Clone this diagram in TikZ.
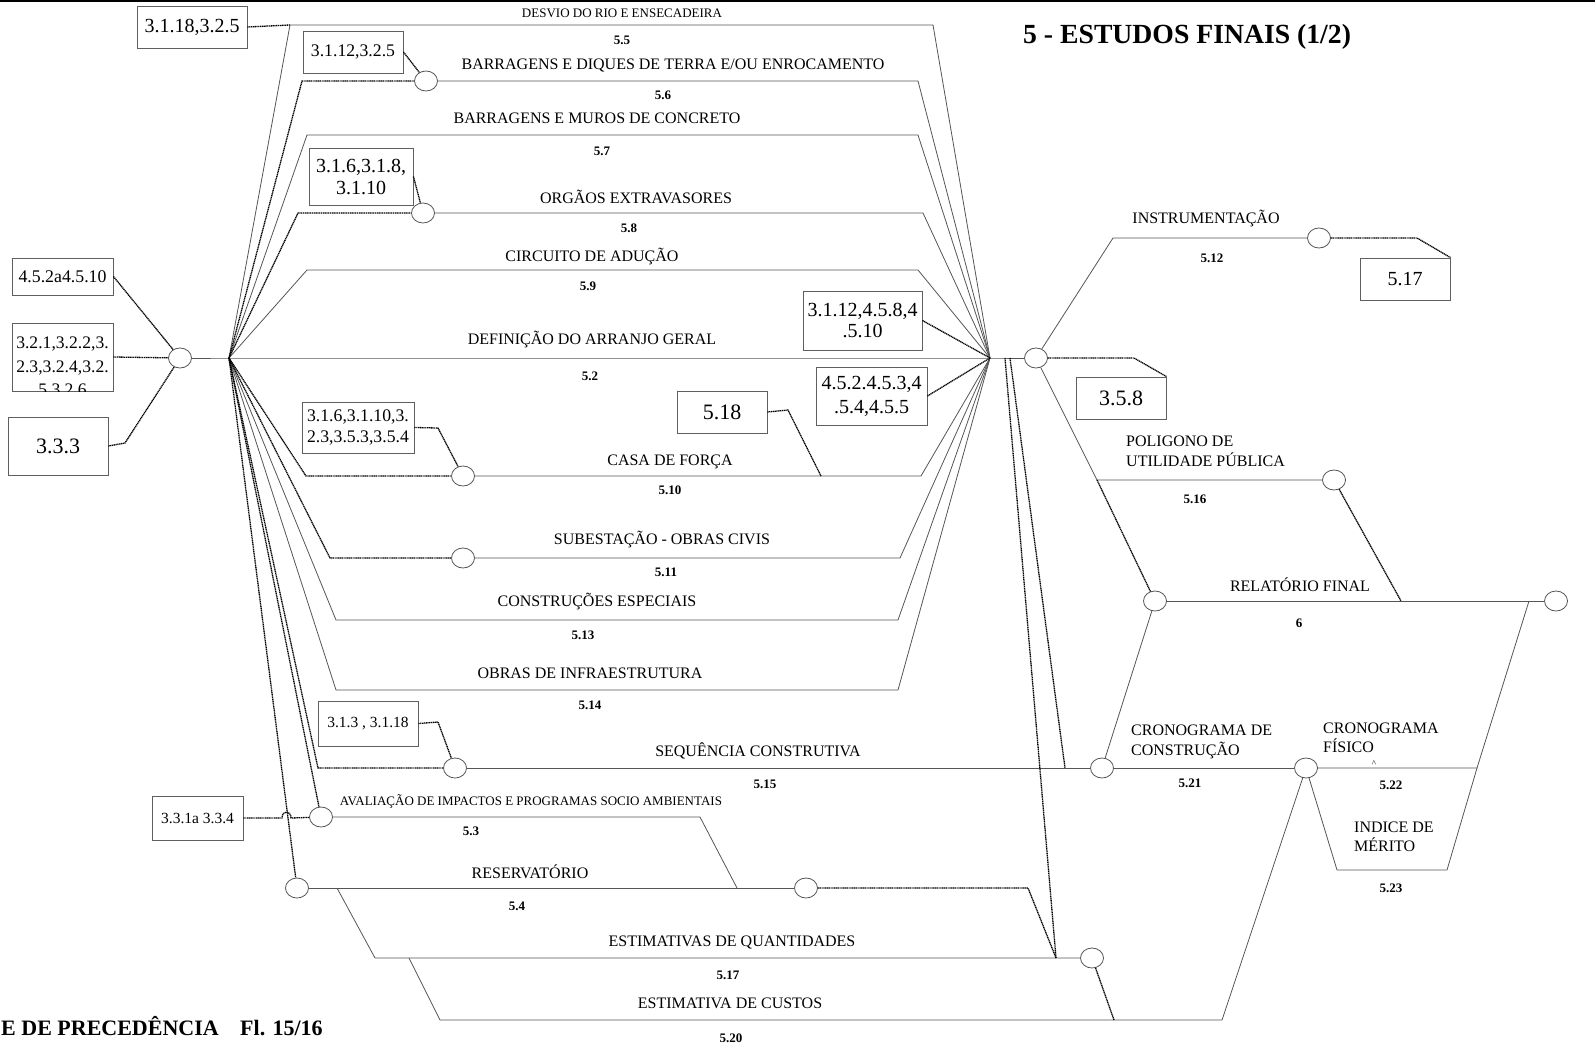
\documentclass[tikz,border=0pt]{standalone}
\usepackage{fontspec}
\setmainfont{Liberation Serif}
\usetikzlibrary{shapes.geometric}
\definecolor{linegray}{RGB}{85,85,85}
\definecolor{boxgray}{RGB}{95,95,95}
\begin{document}
\begin{tikzpicture}[x=1pt,y=-1pt,
  act/.style={draw=linegray,line width=0.8pt},
  dum/.style={draw=black,line width=1.3pt,dash pattern=on 1.2pt off 0.6pt},
  ev/.style={ellipse,draw=linegray,fill=white,line width=0.8pt,minimum width=23pt,minimum height=20pt,inner sep=0pt},
  refbox/.style={draw=boxgray,line width=0.9pt,inner sep=0pt,align=center},
  lbl/.style={inner sep=0pt,anchor=base,font=\fontsize{16}{19}\selectfont},
  lbll/.style={inner sep=0pt,anchor=base west,font=\fontsize{16}{19}\selectfont},
  slbl/.style={inner sep=0pt,anchor=base,font=\fontsize{13}{15}\selectfont},
  num/.style={inner sep=0pt,anchor=base,font=\bfseries\fontsize{13}{15}\selectfont},
  heading/.style={inner sep=0pt,anchor=base west,font=\bfseries\fontsize{22}{24}\selectfont},
]
\useasboundingbox (0,0) rectangle (1595,1046);
\clip (0,0) rectangle (1595,1046);

% frame edge
\draw[line width=2.5pt] (0,1.2) -- (1595,1.2);

% ---------- events ----------
\node[ev] (e0)    at (180,358) {};
\node[ev] (e56)   at (426,81)  {};
\node[ev] (e58)   at (423,213) {};
\node[ev] (e510)  at (463,476) {};
\node[ev] (e511)  at (463,558) {};
\node[ev] (e515)  at (455,768) {};
\node[ev] (e53)   at (321,817) {};
\node[ev] (e54a)  at (297,888) {};
\node[ev] (e54b)  at (806,888) {};
\node[ev] (e517)  at (1092,958) {};
\node[ev] (eR1)   at (1036,358) {};
\node[ev] (e512)  at (1319,238) {};
\node[ev] (e516)  at (1334,480) {};
\node[ev] (eRF)   at (1155,601) {};
\node[ev] (eRFz)  at (1556,601) {};
\node[ev] (e521)  at (1102,768) {};
\node[ev] (e522)  at (1306,768) {};

% ---------- reference boxes ----------
\node[refbox,minimum width=110pt,minimum height=42pt,font=\fontsize{20}{23}\selectfont] (b1) at (192,27) {3.1.18,3.2.5};
\node[refbox,minimum width=100pt,minimum height=42pt,font=\fontsize{17.7}{20}\selectfont] (b2) at (353,52) {3.1.12,3.2.5};
\node[refbox,minimum width=104pt,minimum height=57pt,font=\fontsize{20}{22}\selectfont] (b3) at (361,176.5) {3.1.6,3.1.8,\\3.1.10};
\node[refbox,minimum width=101pt,minimum height=37pt,font=\fontsize{17.8}{20}\selectfont] (b4) at (62.5,276.5) {4.5.2a4.5.10};
\node[refbox,minimum width=101pt,minimum height=68pt] (b5) at (62.5,357) {};
\begin{scope}
  \clip (12,323) rectangle (113,391);
  \node[inner sep=0pt,anchor=base,font=\fontsize{17.6}{20}\selectfont] (b5a) at (62.5,348) {3.2.1,3.2.2,3.};
  \node[inner sep=0pt,anchor=base,font=\fontsize{17.6}{20}\selectfont] (b5b) at (62.5,372) {2.3,3.2.4,3.2.};
  \node[inner sep=0pt,anchor=base,font=\fontsize{17.6}{20}\selectfont] (b5c) at (62.5,395) {5,3.2.6};
\end{scope}
\node[refbox,minimum width=100pt,minimum height=58pt,font=\fontsize{22}{24}\selectfont] (b6) at (58,446) {3.3.3};
\node[refbox,minimum width=119pt,minimum height=59pt,font=\fontsize{20}{21}\selectfont] (b7) at (862.5,320.5) {3.1.12,4.5.8,4\\.5.10};
\node[refbox,minimum width=111pt,minimum height=58pt,font=\fontsize{20}{24}\selectfont] (b8) at (871.5,396) {4.5.2.4.5.3,4\\.5.4,4.5.5};
\node[refbox,minimum width=90pt,minimum height=42pt,font=\fontsize{22}{24}\selectfont] (b9) at (722,412) {5.18};
\node[refbox,minimum width=112pt,minimum height=51pt,font=\fontsize{17.7}{21}\selectfont] (b10) at (358,427.5) {3.1.6,3.1.10,3.\\2.3,3.5.3,3.5.4};
\node[refbox,minimum width=100pt,minimum height=45pt,font=\fontsize{15.5}{18}\selectfont] (b11) at (368,723.5) {3.1.3 , 3.1.18};
\node[refbox,minimum width=91pt,minimum height=44pt,font=\fontsize{15.5}{18}\selectfont] (b12) at (197.5,818) {3.3.1a 3.3.4};
\node[refbox,minimum width=90pt,minimum height=42pt,font=\fontsize{20}{23}\selectfont] (b13) at (1405,279) {5.17};
\node[refbox,minimum width=90pt,minimum height=42pt,font=\fontsize{22}{24}\selectfont] (b14) at (1121,398) {3.5.8};

% ---------- junctions and bends ----------
\coordinate (hubL) at (229,358);
\coordinate (hubR) at (990,358);
\coordinate (c55a) at (290,25);   \coordinate (c55b) at (933,25);
\coordinate (c56a) at (302,81);   \coordinate (c56b) at (918,81);
\coordinate (c57a) at (307,135);  \coordinate (c57b) at (918,135);
\coordinate (c58a) at (298,213);  \coordinate (c58b) at (923,213);
\coordinate (c59a) at (307,270);  \coordinate (c59b) at (918,270);
\coordinate (c510a) at (306,476); \coordinate (c510b) at (921,476);
\coordinate (c511a) at (330,558); \coordinate (c511b) at (900,558);
\coordinate (c513a) at (336,620); \coordinate (c513b) at (898,620);
\coordinate (c514a) at (336,690); \coordinate (c514b) at (898,690);
\coordinate (c515a) at (318,768);
\coordinate (c53a) at (700,817);  \coordinate (c53b) at (737,888);
\coordinate (c517a) at (337,888); \coordinate (c517b) at (375,958);
\coordinate (c520a) at (409,958); \coordinate (c520b) at (440,1020); \coordinate (c520c) at (1222,1020);
\coordinate (cD1s) at (1005,358); \coordinate (cD1) at (1056,958);
\coordinate (cD2s) at (1010,358); \coordinate (cD2) at (1065,768);
\coordinate (c54a) at (1028,888);
\coordinate (c517d) at (1114,1020);
\coordinate (c512a) at (1113,238); \coordinate (c512b) at (1417,238);
\coordinate (c358) at (1134,358);
\coordinate (c516a) at (1097,480);
\coordinate (c516d) at (1401,601);
\coordinate (cRFa) at (1529,601);
\coordinate (c522b) at (1477,768);
\coordinate (c523a) at (1337,870); \coordinate (c523b) at (1447,870);
\coordinate (c333) at (125,443);
\coordinate (c510k) at (438,428);
\coordinate (c515k) at (438,722);
\coordinate (c518k) at (788,410); \coordinate (c518e) at (821,476);
\coordinate (hopA) at (282,818); \coordinate (hopB) at (291,818);

% ---------- activities (solid) ----------
\draw[act] (e0) -- (hubL) -- (hubR) -- (eR1);
\draw[act] (hubL) -- (c55a) -- (c55b) -- (hubR);
\draw[act] (e56) -- (c56b) -- (hubR);
\draw[act] (hubL) -- (c57a) -- (c57b) -- (hubR);
\draw[act] (e58) -- (c58b) -- (hubR);
\draw[act] (hubL) -- (c59a) -- (c59b) -- (hubR);
\draw[act] (e510) -- (c510b) -- (hubR);
\draw[act] (e511) -- (c511b) -- (hubR);
\draw[act] (hubL) -- (c513a) -- (c513b) -- (hubR);
\draw[act] (hubL) -- (c514a) -- (c514b) -- (hubR);
\draw[act] (e515) -- (e521);
\draw[act] (e53) -- (c53a) -- (c53b);
\draw[act] (e54a) -- (e54b);
\draw[act] (c517a) -- (c517b) -- (e517);
\draw[act] (c520a) -- (c520b) -- (c520c) -- (e522);
\draw[act] (eR1) -- (c512a) -- (e512);
\draw[act] (eR1) -- (c516a) -- (e516);
\draw[act] (eRF) -- (eRFz);
\draw[act] (eRF) -- (e521);
\draw[act] (e521) -- (e522);
\draw[act] (e522) -- (c522b) -- (cRFa);
\draw[act] (e522) -- (c523a) -- (c523b) -- (c522b);

% ---------- dummies (dotted) ----------
\draw[dum] (b4.east) -- (e0);
\draw[dum] (b5.east) -- (e0);
\draw[dum] (b6.east) -- (c333) -- (e0);
\draw[dum] (b1.east) -- (c55a);
\draw[dum] (b2.east) -- (e56);
\draw[dum] (hubL) -- (c56a) -- (e56);
\draw[dum] (b3.east) -- (e58);
\draw[dum] (hubL) -- (c58a) -- (e58);
\draw[dum] (hubL) -- (c510a) -- (e510);
\draw[dum] (b10.east) -- (c510k) -- (e510);
\draw[dum] (b9.east) -- (c518k) -- (c518e);
\draw[dum] (hubL) -- (c511a) -- (e511);
\draw[dum] (hubL) -- (c515a) -- (e515);
\draw[dum] (b11.east) -- (c515k) -- (e515);
\draw[dum] (hubL) -- (e53);
\draw[dum] (b12.east) -- (hopA) .. controls +(0,-8) and +(0,-8) .. (hopB) -- (e53);
\draw[dum] (hubL) -- (e54a);
\draw[dum] (b7.east) -- (hubR);
\draw[dum] (b8.east) -- (hubR);
\draw[dum] (cD1s) -- (cD1);
\draw[dum] (cD2s) -- (cD2);
\draw[dum] (e54b) -- (c54a) -- (cD1);
\draw[dum] (e517) -- (c517d);
\draw[dum] (e512) -- (c512b) -- (b13.north east);
\draw[dum] (eR1) -- (c358) -- (b14.north east);
\draw[dum] (c516a) -- (eRF);
\draw[dum] (e516) -- (c516d);

% ---------- activity names and codes ----------
\node[slbl] (t55) at (622,18) {DESVIO DO RIO E ENSECADEIRA};
\node[num] (n55) at (622,45) {5.5};
\node[lbl] (t56) at (673,70) {BARRAGENS E DIQUES DE TERRA E/OU ENROCAMENTO};
\node[num] (n56) at (663,100) {5.6};
\node[lbl] (t57) at (597,124) {BARRAGENS E MUROS DE CONCRETO};
\node[num] (n57) at (602,156) {5.7};
\node[lbl] (t58) at (636,203) {ORGÃOS EXTRAVASORES};
\node[num] (n58) at (629,232) {5.8};
\node[lbl] (t59) at (592,261) {CIRCUITO DE ADUÇÃO};
\node[num] (n59) at (588,290) {5.9};
\node[lbl] (t52) at (592,344) {DEFINIÇÃO DO ARRANJO GERAL};
\node[num] (n52) at (590,380) {5.2};
\node[lbl] (t510) at (670,465) {CASA DE FORÇA};
\node[num] (n510) at (670,494) {5.10};
\node[lbl] (t511) at (662,544) {SUBESTAÇÃO - OBRAS CIVIS};
\node[num] (n511) at (666,576) {5.11};
\node[lbl] (t513) at (597,606) {CONSTRUÇÕES ESPECIAIS};
\node[num] (n513) at (583,639) {5.13};
\node[lbl] (t514) at (590,678) {OBRAS DE INFRAESTRUTURA};
\node[num] (n514) at (590,709) {5.14};
\node[lbl] (t515) at (758,756) {SEQUÊNCIA CONSTRUTIVA};
\node[num] (n515) at (765,788) {5.15};
\node[slbl] (t53) at (531,805) {AVALIAÇÃO DE IMPACTOS E PROGRAMAS SOCIO AMBIENTAIS};
\node[num] (n53) at (471,835) {5.3};
\node[lbl] (t54) at (530,878) {RESERVATÓRIO};
\node[num] (n54) at (517,910) {5.4};
\node[lbl] (t517) at (732,946) {ESTIMATIVAS DE QUANTIDADES};
\node[num] (n517) at (728,979) {5.17};
\node[lbl] (t520) at (730,1008) {ESTIMATIVA DE CUSTOS};
\node[num] (n520) at (731,1042) {5.20};
\node[lbl] (t512) at (1206,223) {INSTRUMENTAÇÃO};
\node[num] (n512) at (1212,262) {5.12};
\node[lbll] (t516a) at (1126,446) {POLIGONO DE};
\node[lbll] (t516b) at (1126,466) {UTILIDADE PÚBLICA};
\node[num] (n516) at (1195,503) {5.16};
\node[lbl] (t6) at (1300,591) {RELATÓRIO FINAL};
\node[num] (n6) at (1299,627) {6};
\node[lbll] (t521a) at (1131,735) {CRONOGRAMA DE};
\node[lbll] (t521b) at (1131,755) {CONSTRUÇÃO};
\node[num] (n521) at (1190,787) {5.21};
\node[lbll] (t522a) at (1323,733) {CRONOGRAMA};
\node[lbll] (t522b) at (1323,752) {FÍSICO};
\node[inner sep=0pt,anchor=base,font=\fontsize{9}{10}\selectfont] (t522c) at (1374,766) {\^{}};
\node[num] (n522) at (1391,789) {5.22};
\node[lbll] (t523a) at (1354,832) {INDICE DE};
\node[lbll] (t523b) at (1354,851) {MÉRITO};
\node[num] (n523) at (1391,892) {5.23};

% ---------- sheet titles ----------
\node[inner sep=0pt,anchor=base west,font=\bfseries\fontsize{27.7}{30}\selectfont] (title) at (1023,44) {5 - ESTUDOS FINAIS (1/2)};
\node[heading] (foot1) at (1,1035) {E DE PRECEDÊNCIA};
\node[heading] (foot2) at (240,1035) {Fl. 15/16};
\end{tikzpicture}
\end{document}
